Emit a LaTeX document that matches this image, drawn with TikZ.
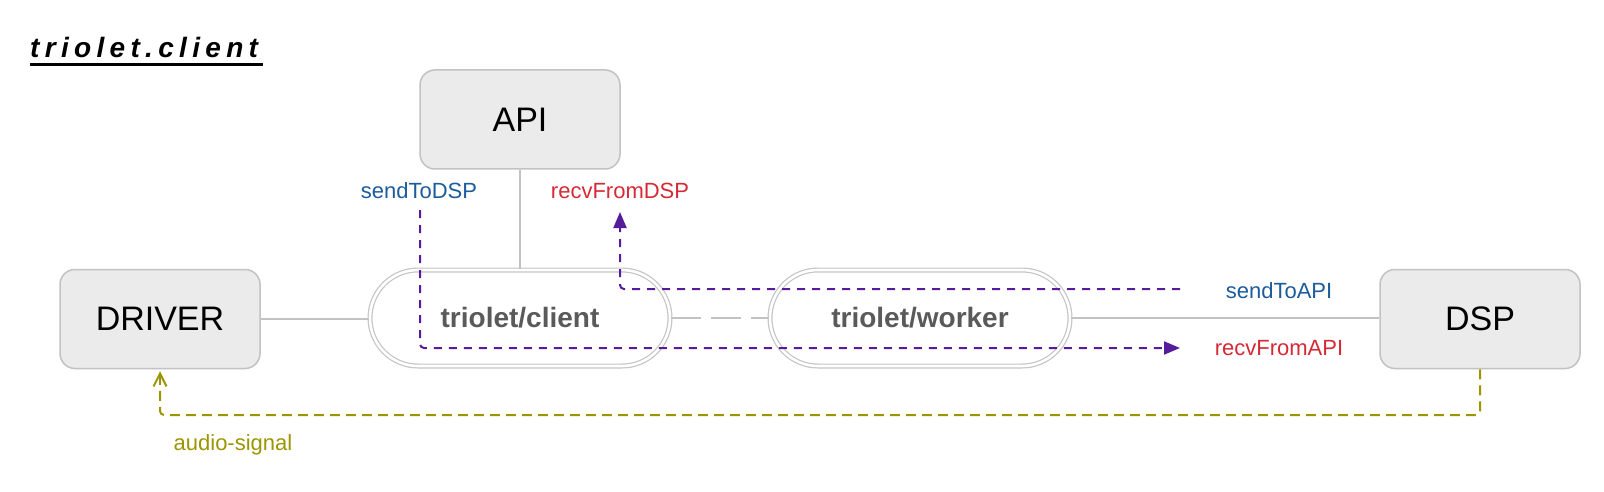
\documentclass[tikz,border=0pt]{standalone}
\usepackage{fontspec}
\setmainfont{Liberation Sans}
\newfontfamily\titlefont[LetterSpace=19]{Liberation Sans}
\usetikzlibrary{arrows.meta}
\definecolor{boxfill}{HTML}{EBEBEB}
\definecolor{boxline}{HTML}{C2C2C2}
\definecolor{pillline}{HTML}{C4C4C4}
\definecolor{pilltext}{HTML}{5A5A5A}
\definecolor{purp}{HTML}{561C9C}
\definecolor{lblue}{HTML}{1D5C9C}
\definecolor{lred}{HTML}{D42A36}
\definecolor{olv}{HTML}{9C9500}
\tikzset{
  boxnode/.style={draw=boxline, line width=1.5pt, fill=boxfill, rounded corners=15pt,
    minimum width=200pt, minimum height=99pt, inner sep=0pt,
    font=\fontsize{34}{40}\selectfont, text=black},
  pill/.style={draw=pillline, double=white, double distance=2.6pt, line width=1.2pt,
    rounded corners=48pt, minimum width=300pt, minimum height=96pt, inner sep=0pt,
    font=\fontsize{28}{32}\selectfont\bfseries, text=pilltext},
  conn/.style={draw=boxline, line width=1.5pt},
  longdash/.style={conn, dash pattern=on 30pt off 10pt},
  msg/.style={draw=purp, line width=2pt, dash pattern=on 8pt off 7pt, rounded corners=4pt},
  msgtip/.style={-{Triangle[length=16pt,width=13pt]}},
  audio/.style={draw=olv, line width=2pt, dash pattern=on 10pt off 6pt, rounded corners=4pt,
    -{Straight Barb[length=13pt,width=13pt,line width=2pt]}},
  lbl/.style={font=\fontsize{22}{26}\selectfont, inner sep=0pt}
}
\begin{document}
\begin{tikzpicture}[x=1pt,y=-1pt]
\useasboundingbox (0,0) rectangle (1604,492);
% title
\node[anchor=base west, inner sep=0pt, font=\titlefont\fontsize{28}{32}\selectfont\bfseries\itshape] (title) at (30,58) {triolet.client};
\draw[line width=2.4pt] (title.base west) ++(0,6.5) coordinate (u1) -- ++(233,0) coordinate (u2);
% nodes
\node[boxnode] (driver) at (160,319) {DRIVER};
\node[boxnode] (api) at (520,119.5) {API};
\node[boxnode] (dsp) at (1480,319) {DSP};
\node[pill] (client) at (520,318) {triolet/client};
\node[pill] (worker) at (920,318) {triolet/worker};
% connectors
\draw[conn] (driver.east) -- (driver.east -| client.west);
\draw[conn] (api.south) -- (client.north);
\draw[longdash] (client.east) -- (worker.west);
\draw[conn] (worker.east) -- (worker.east -| dsp.west);
% labels
\node[lbl, text=lblue] (sendToDSP) at (419,191) {sendToDSP};
\node[lbl, text=lred] (recvFromDSP) at (620,191) {recvFromDSP};
\node[lbl, text=lblue] (sendToAPI) at (1279,291) {sendToAPI};
\node[lbl, text=lred] (recvFromAPI) at (1279,348) {recvFromAPI};
\node[lbl, text=olv] (audiosig) at (233,445) {audio-signal};
% message paths
\coordinate (s1) at (420,210);
\coordinate (s2) at (1180,348);
\draw[msg, msgtip] (s1) |- (s2);
\coordinate (r1) at (1180,289);
\coordinate (r2) at (620,212);
\draw[msg, msgtip] (r1) -| (r2);
% audio signal
\coordinate (a1) at (1480,415);
\coordinate (a2) at (160,415);
\draw[audio, shorten >=2pt] (dsp.south) -- (a1) -- (a2) -- (driver.south);
\end{tikzpicture}
\end{document}
